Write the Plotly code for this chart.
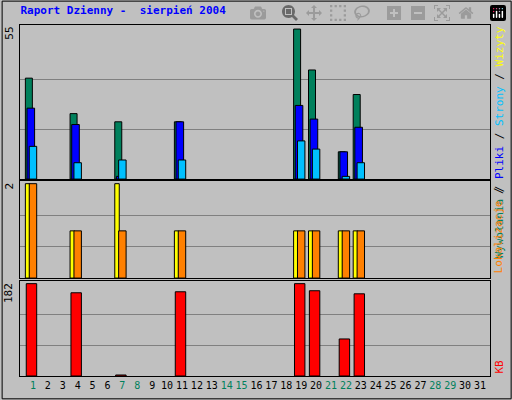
import plotly.graph_objects as go
from plotly.subplots import make_subplots

days = list(range(1, 32))
hits =  [37,0,0,24,0,0,21,0,0,0,21,0,0,0,0,0,0,0,55,40,0,10,31,0,0,0,0,0,0,0,0]
files = [26,0,0,20,0,0,1,0,0,0,21,0,0,0,0,0,0,0,27,22,0,10,19,0,0,0,0,0,0,0,0]
pages = [12,0,0,6,0,0,7,0,0,0,7,0,0,0,0,0,0,0,14,11,0,1,6,0,0,0,0,0,0,0,0]
visits = [2,0,0,1,0,0,2,0,0,0,1,0,0,0,0,0,0,0,1,1,0,1,1,0,0,0,0,0,0,0,0]
sites =  [2,0,0,1,0,0,1,0,0,0,1,0,0,0,0,0,0,0,1,1,0,1,1,0,0,0,0,0,0,0,0]
kbytes = [182,0,0,164,0,0,2,0,0,0,166,0,0,0,0,0,0,0,182,168,0,73,162,0,0,0,0,0,0,0,0]
weekend = [1, 7, 8, 14, 15, 21, 22, 28, 29]

fig = make_subplots(rows=3, cols=1, shared_xaxes=True)
line = dict(color="black", width=1)

def bars(y, color, off, w, row):
    y = [v if v else None for v in y]
    fig.add_trace(go.Bar(x=days, y=y, offset=off, width=w, marker_color=color,
                         marker_line=line, showlegend=False), row=row, col=1)

bars(hits, "#00805C", -0.51, 0.47, 1)
bars(files, "#0000FF", -0.40, 0.51, 1)
bars(pages, "#00C0FF", -0.25, 0.50, 1)
bars(visits, "#FFFF00", -0.51, 0.30, 2)
bars(sites, "#FF8000", -0.25, 0.50, 2)
bars(kbytes, "#FF0000", -0.45, 0.70, 3)

mono = "DejaVu Sans Mono"
ticktext = [f"<span style='color:#00805C'>{d}</span>" if d in weekend else str(d) for d in days]

fig.update_layout(
    width=512, height=400, barmode="overlay",
    margin=dict(l=20, r=22, t=25, b=24, autoexpand=False),
    paper_bgcolor="#C0C0C0", plot_bgcolor="#C0C0C0",
    font=dict(family=mono, size=11, color="black"),
    title=dict(text="<b>Raport Dzienny -  sierpień 2004</b>", x=0.04, xanchor="left",
               y=0.985, yanchor="top", font=dict(color="#0000FF", size=11, family=mono)),
    yaxis=dict(domain=[0.561, 1]), yaxis2=dict(domain=[0.279, 0.556]), yaxis3=dict(domain=[0, 0.271]),
)
for i, (mx, sc) in enumerate([(55, 1.027), (2, 1.03), (182, 1.03)], start=1):
    fig.update_yaxes(range=[0, mx * sc], tickvals=[mx / 3, 2 * mx / 3], showticklabels=False,
                     gridcolor="#808080", gridwidth=1, zeroline=False,
                     showline=True, linecolor="black", mirror=True, row=i, col=1)
    fig.add_annotation(text=str(mx), xref="paper", yref=f"y{i} domain" if i > 1 else "y domain",
                       x=-0.005, y=1, xanchor="right", yanchor="top", textangle=-90,
                       showarrow=False, font=dict(size=11))
fig.update_xaxes(range=[0.13, 31.67], showgrid=False, showline=True, linecolor="black",
                 mirror=True, tickvals=days, ticktext=ticktext, ticks="", tickangle=0,
                 tickfont=dict(size=10))

fig.add_annotation(text="<span style='color:#00805C'>Wywołania</span> / <span style='color:#0000FF'>Pliki</span>"
                        " / <span style='color:#00C0FF'>Strony</span> / <span style='color:#FFFF00'>Wizyty</span>",
                   xref="paper", yref="paper", x=1.0, y=1, xanchor="left", yanchor="top",
                   textangle=-90, showarrow=False, font=dict(size=11))
fig.add_annotation(text="<span style='color:#FF8000'>Lokalizacje</span> /",
                   xref="paper", yref="paper", x=1.0, y=0.285, xanchor="left", yanchor="bottom",
                   textangle=-90, showarrow=False, font=dict(size=11))
fig.add_annotation(text="<span style='color:#FF0000'>KB</span>",
                   xref="paper", yref="paper", x=1.0, y=0, xanchor="left", yanchor="bottom",
                   textangle=-90, showarrow=False, font=dict(size=11))
fig.add_shape(type="rect", xref="paper", yref="paper", x0=-0.038, x1=1.045, y0=-0.065, y1=1.068,
              line=dict(color="black", width=1))

fig.write_html("out.html", post_script="document.body.style.margin='0';")
